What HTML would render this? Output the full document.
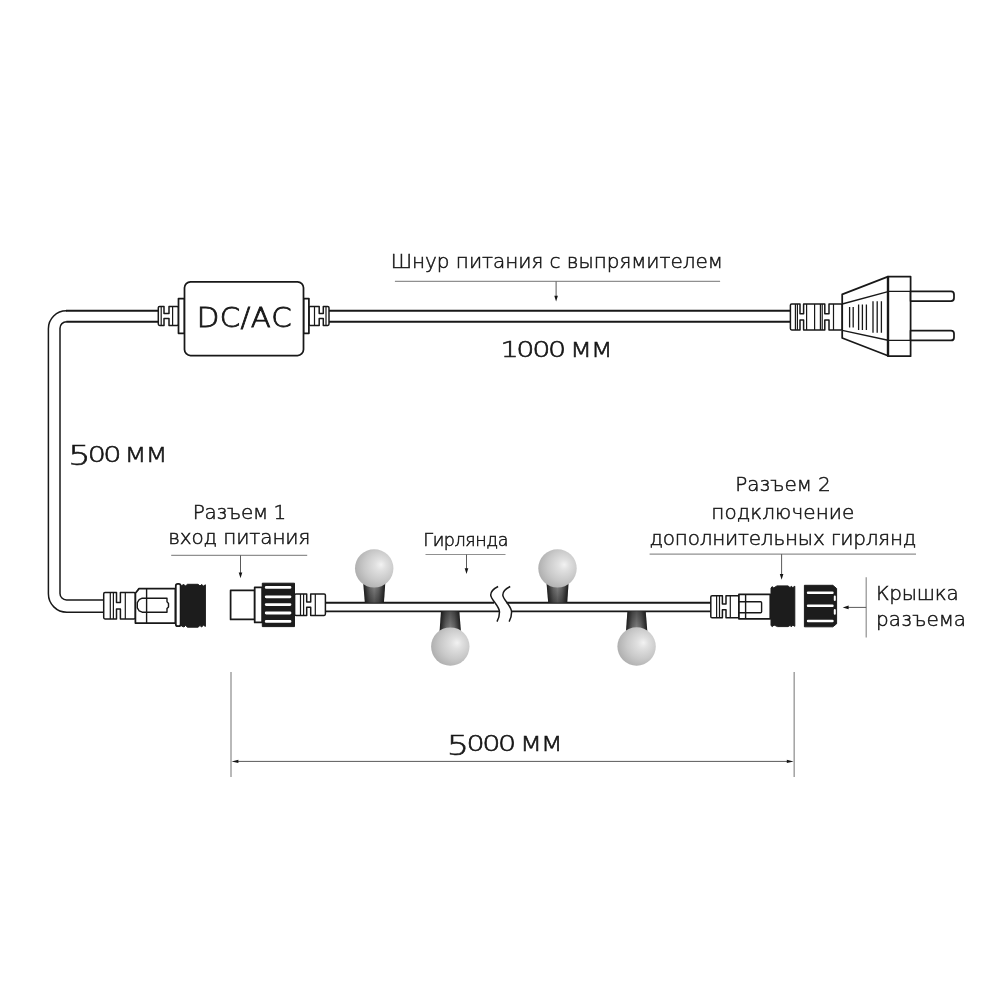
<!DOCTYPE html>
<html lang="ru">
<head>
<meta charset="utf-8">
<title>Схема гирлянды</title>
<style>
html,body{margin:0;padding:0;background:#fff;}
body{width:1000px;height:1000px;overflow:hidden;}
svg{display:block;will-change:transform;}
text{font-family:"DejaVu Sans Light","DejaVu Sans","Liberation Sans",sans-serif;font-weight:200;font-kerning:none;fill:#161616;stroke:#161616;stroke-width:0.5;}
.ln{fill:none;stroke:#181818;stroke-width:1.75;stroke-linejoin:round;stroke-linecap:butt;}
.wf{fill:#fff;stroke:#181818;stroke-width:1.75;stroke-linejoin:round;}
.bk{fill:#1c1c1c;stroke:#1c1c1c;stroke-width:1;stroke-linejoin:round;}
.th{fill:none;stroke:#909090;stroke-width:1.2;}
.sh{fill:none;stroke:#5a5a5a;stroke-width:1;}
.vd{fill:none;stroke:#a2a2a2;stroke-width:1.5;}
.ar{fill:#141414;stroke:none;}
.cb{stroke-width:1.9;}
.cv{stroke-width:1.5;}
</style>
</head>
<body>
<svg width="1000" height="1000" viewBox="0 0 1000 1000">
<defs>
<radialGradient id="bulb" cx="0.6" cy="0.45" r="0.72" fx="0.68" fy="0.4">
<stop offset="0" stop-color="#f2f2f2"/>
<stop offset="0.2" stop-color="#e0e0e0"/>
<stop offset="0.55" stop-color="#c9c9c9"/>
<stop offset="0.85" stop-color="#b0b0b0"/>
<stop offset="1" stop-color="#949494"/>
</radialGradient>
<linearGradient id="base" x1="0" x2="1" y1="0" y2="0">
<stop offset="0" stop-color="#1a1a1a"/>
<stop offset="0.1" stop-color="#363636"/>
<stop offset="0.3" stop-color="#6c6c6c"/>
<stop offset="0.5" stop-color="#8a8a8a"/>
<stop offset="0.7" stop-color="#6c6c6c"/>
<stop offset="0.9" stop-color="#363636"/>
<stop offset="1" stop-color="#1a1a1a"/>
</linearGradient>
<linearGradient id="shd" x1="0" x2="0" y1="0" y2="1">
<stop offset="0" stop-color="#000" stop-opacity="0"/>
<stop offset="1" stop-color="#000" stop-opacity="0.42"/>
</linearGradient>
<linearGradient id="shu" x1="0" x2="0" y1="1" y2="0">
<stop offset="0" stop-color="#000" stop-opacity="0"/>
<stop offset="1" stop-color="#000" stop-opacity="0.42"/>
</linearGradient>
</defs>
<rect width="1000" height="1000" fill="#fff"/>
<g id="cables">
<path class="ln cb" d="M329 310.7H790.5M329 321.7H790.5"/>
<path class="ln cb" d="M158.5 310.7H66M158.5 321.7H66.3"/>
<path class="ln cv" d="M66.6 310.7H66.4A18 18 0 0 0 48.4 328.7V593.8A18.5 18.5 0 0 0 66.9 612.3H104"/>
<path class="ln cv" d="M66.8 321.7H66.5A6.5 6.5 0 0 0 60 328.2V593.4A6.5 6.5 0 0 0 66.5 599.9H104"/>
<path class="ln cb" d="M325 602.7H494M325 611.4H499.4M506.6 602.7H711M511.6 611.4H711"/>
</g>
<g id="box">
<path class="wf" style="stroke-width:1.5" d="M159.60000000000002 306.5H164V313.5H169V306.5H177.2Q178.5 306.5 178.5 307.8V324.09999999999997Q178.5 325.4 177.2 325.4H169V318.6H164V325.4H159.60000000000002Q158.3 325.4 158.3 324.09999999999997V307.8Q158.3 306.5 159.60000000000002 306.5Z"/>
<path class="ln" style="stroke-width:1.2" d="M161.2 306.5V325.4M172.6 306.5V325.4"/>
<rect class="wf" x="178.5" y="298.5" width="6" height="34.8"/>
<path class="wf" style="stroke-width:1.5" d="M310.2 306.5H319.2V313.5H323.3V306.5H327.7Q329 306.5 329 307.8V324.09999999999997Q329 325.4 327.7 325.4H323.3V318.6H319.2V325.4H310.2Q308.9 325.4 308.9 324.09999999999997V307.8Q308.9 306.5 310.2 306.5Z"/>
<path class="ln" style="stroke-width:1.2" d="M314.5 306.5V325.4M326 306.5V325.4"/>
<rect class="wf" x="303.5" y="298.5" width="5.4" height="34.8"/>
<rect class="wf" x="184.5" y="281.8" width="119" height="73.7" rx="6" ry="6"/>
</g>
<g id="plug">
<path class="wf" style="stroke-width:1.5" d="M791.6999999999999 304H800V313.8H803.6V304H824.8V313.8H829V304H841.0Q842.3 304 842.3 305.3V328.59999999999997Q842.3 329.9 841.0 329.9H829V320.1H824.8V329.9H803.6V320.1H800V329.9H791.6999999999999Q790.4 329.9 790.4 328.59999999999997V305.3Q790.4 304 791.6999999999999 304Z"/>
<path class="ln" style="stroke-width:1.2" d="M795.4 304V329.9M797.4 304V329.9M806.6 304V329.9M814.6 304V329.9M820.4 304V329.9M822.2 304V329.9M833.5 304V329.9"/>
<path class="wf" d="M842.2 294.4L888 276.6V355.8L842.2 338Z"/>
<path class="ln" style="stroke-width:1.4" d="M842.2 304L888 291.6M842.2 330.4L888 340.2"/>
<rect class="wf" x="888" y="276.6" width="22.6" height="79.6"/>
<path class="ln" style="stroke-width:2.4" d="M888 276.6V356.2"/>
<path class="ln" style="stroke-width:1.4" d="M888 291.4H910.6M888 340.4H910.6"/>
<path class="wf" d="M910.6 291.4H951Q954 291.4 954 294.4V298Q954 301 951 301H910.6Z"/>
<path class="wf" d="M910.6 330.6H951Q954 330.6 954 333.6V337.4Q954 340.4 951 340.4H910.6Z"/>
<path class="ln" style="stroke-width:1.3" d="M849.6 307V327.4M853.2 307V327.4M858.6 304.4V330M862.4 304.4V330M866.4 304.4V330M873 301.2V332.8M877.2 301.2V332.8M881.4 301.2V332.8"/>
</g>
<g id="bulbs">
<path fill="url(#base)" d="M363.2 583H385.3L383.9 602.6H364.9Z"/><path fill="url(#shd)" d="M363.2 583H385.3L383.9 602.6H364.9Z"/>
<circle cx="374.2" cy="568.4" r="19.2" fill="url(#bulb)"/>
<path fill="url(#base)" d="M441 611.6H459.3L461 632H439.5Z"/><path fill="url(#shu)" d="M441 611.6H459.3L461 632H439.5Z"/>
<circle cx="450.3" cy="646.6" r="19.2" fill="url(#bulb)"/>
<path fill="url(#base)" d="M546.5 583H568.6L567.2 602.6H548.2Z"/><path fill="url(#shd)" d="M546.5 583H568.6L567.2 602.6H548.2Z"/>
<circle cx="557.5" cy="568.4" r="19.2" fill="url(#bulb)"/>
<path fill="url(#base)" d="M627.4 611.6H645.7L647.4 632H625.9Z"/><path fill="url(#shu)" d="M627.4 611.6H645.7L647.4 632H625.9Z"/>
<circle cx="636.6" cy="646.5" r="19.2" fill="url(#bulb)"/>
</g>
<g id="break">
<path class="ln cv" stroke-linecap="round" d="M498.1 586.5C493.5 588.8 490.7 591 490.7 595C490.7 599.5 499.5 606 499.5 612C499.5 615.5 498.5 619 497 621.7"/>
<path class="ln cv" stroke-linecap="round" d="M510.2 586.5C505.6 588.8 502.8 591 502.8 595C502.8 599.5 511.6 606 511.6 612C511.6 615.5 510.6 619 509.1 621.7"/>
</g>
<g id="conn1">
<path class="wf" style="stroke-width:1.5" d="M105.0 592.6H116.5V602.4H120.4V592.6H134.1Q135.4 592.6 135.4 593.9V617.6Q135.4 618.9 134.1 618.9H120.4V609H116.5V618.9H105.0Q103.7 618.9 103.7 617.6V593.9Q103.7 592.6 105.0 592.6Z"/>
<path class="ln" style="stroke-width:1.2" d="M110.3 592.6V618.9M113.4 592.6V618.9M125.3 592.6V618.9"/>
<path class="wf" d="M135.4 593.2L139 588.6H175.4V623H135.4Z"/>
<path class="ln" style="stroke-width:1.4" d="M146.6 588.6V623"/>
<path class="ln" style="stroke-width:1.4" d="M167 598.2H142.2L139.2 599.6L137.3 602.6V607.8L139.2 610.8L142.2 612.2H167V608.6L168.5 607V603.4L167 601.8Z"/>
<rect class="wf" x="175.8" y="583.8" width="4.8" height="42.4" rx="2"/>
<path class="bk" d="M181.5 585.5L184 584.5L185.5 586L187.5 584.3H198L200 586L201.5 584.5L203.5 586L205.4 584.8V626.4L203.5 625.2L201.5 627L200 625.4L198 627.2H187.5L185.5 625.4L184 627L181.5 626Z"/>
</g>
<g id="conn2">
<rect class="wf" x="230.6" y="590.4" width="24.1" height="29"/>
<rect class="wf" x="254.7" y="587.3" width="7.5" height="35.1"/>
<rect class="bk" x="262.3" y="583.2" width="32.2" height="43.4"/>
<path fill="none" stroke="#fff" style="stroke-width:2.8" stroke-linecap="round" d="M266.2 587.4H290M266.2 596.8H290M266.2 604.6H290M266.2 613H290M266.2 621.4H290"/>
<path class="wf" style="stroke-width:1.5" d="M295.90000000000003 594H306.7V602H310.7V594H324.09999999999997Q325.4 594 325.4 595.3V614.1Q325.4 615.4 324.09999999999997 615.4H310.7V607.2H306.7V615.4H295.90000000000003Q294.6 615.4 294.6 614.1V595.3Q294.6 594 295.90000000000003 594Z"/>
<path class="ln" style="stroke-width:1.2" d="M300.5 594V615.4M303.6 594V615.4M315.3 594V615.4"/>
</g>
<g id="conn3">
<path class="wf" style="stroke-width:1.5" d="M712.0999999999999 595.7H722.4V604.1H726V595.7H737.6Q738.9 595.7 738.9 597.0V616.5Q738.9 617.8 737.6 617.8H726V609.8H722.4V617.8H712.0999999999999Q710.8 617.8 710.8 616.5V597.0Q710.8 595.7 712.0999999999999 595.7Z"/>
<path class="ln" style="stroke-width:1.2" d="M716.6 595.7V617.8M719.5 595.7V617.8M730.3 595.7V617.8"/>
<rect class="wf" x="738.9" y="594.4" width="31.4" height="24.4"/>
<path class="ln" style="stroke-width:1.4" d="M745.6 594.4V618.8M738.9 601.8H760.6Q761.6 601.8 761.6 602.8V611.7Q761.6 612.7 760.6 612.7H738.9"/>
<path class="bk" d="M771 588L772.3 586.6L773.6 588L777 585.9H788L790 587.6L791.3 586.2L792.8 587.6L794.8 586.2V626.3L792.8 625.2L791.3 626.8L790 625.4L788 626.6H777.5L774 625L772.5 626.6L771 625.6Z"/>
<path class="bk" d="M804.4 585.3H832.8L836.6 588.5V623.8L832.8 626.8H804.4Z"/>
<path fill="none" stroke="#fff" style="stroke-width:2.4" stroke-linecap="round" d="M808 592.8H832.5M808 605.7H832.5M808 621H832.5"/>
<path fill="none" stroke="#fff" style="stroke-width:2" stroke-linecap="round" d="M834.8 596.5V600M834.8 610V613.8"/>
</g>
<g id="labels">
<text transform="translate(196.74 326.70) scale(1.1000 1)" font-size="26.6" letter-spacing="0.358" style="stroke-width:0.8">DC/AC</text>
<text transform="translate(390.66 268.40)" font-size="20" letter-spacing="-0.029">Шнур питания с выпрямителем</text>
<text transform="translate(500.56 356.60) scale(1.3000 1)" font-size="22.0" letter-spacing="-1.843" style="stroke-width:0.6">1000</text>
<text transform="translate(570.29 356.60) scale(1.1000 1)" font-size="26.0" letter-spacing="-0.834" style="stroke-width:0.6">мм</text>
<text transform="translate(68.14 462.40) scale(1.3000 1)" letter-spacing="-2.080" style="stroke-width:0.6"><tspan font-size="27" dy="3.00">5</tspan><tspan font-size="22.0" dy="-3.00">00</tspan></text>
<text transform="translate(124.79 462.30) scale(1.1000 1)" font-size="26.0" letter-spacing="-0.470" style="stroke-width:0.6">мм</text>
<text transform="translate(192.76 518.70)" font-size="20" letter-spacing="-0.365">Разъем 1</text>
<text transform="translate(168.14 544.30)" font-size="20" letter-spacing="-0.104">вход питания</text>
<text transform="translate(423.35 546.30)" font-size="17.6" letter-spacing="-0.472">Гирлянда</text>
<text transform="translate(735.16 491.40)" font-size="20" letter-spacing="-0.070">Разъем 2</text>
<text transform="translate(711.33 518.60)" font-size="20" letter-spacing="0.054">подключение</text>
<text transform="translate(649.44 545.00)" font-size="20" letter-spacing="-0.220">дополнительных гирлянд</text>
<text transform="translate(875.94 599.70)" font-size="20" letter-spacing="-0.222">Крышка</text>
<text transform="translate(876.11 625.60)" font-size="20" letter-spacing="0.002">разъема</text>
<text transform="translate(446.64 751.30) scale(1.3000 1)" letter-spacing="-1.899" style="stroke-width:0.6"><tspan font-size="27" dy="3.20">5</tspan><tspan font-size="22.0" dy="-3.20">000</tspan></text>
<text transform="translate(520.29 751.30) scale(1.1000 1)" font-size="26.0" letter-spacing="-0.834" style="stroke-width:0.6">мм</text>
</g>
<g id="leaders">
<path class="th" d="M394.9 281.4H720.1"/><path class="sh" d="M556.1 281.4V296.7"/><path class="ar" d="M554.3000000000001 295.7H557.9L556.1 301.5Z"/>
<path class="th" d="M171.2 555.3H307.2"/><path class="sh" d="M240.5 555.3V573.4000000000001"/><path class="ar" d="M238.7 572.4000000000001H242.3L240.5 578.2Z"/>
<path class="th" d="M425.5 554.5H505.5"/><path class="sh" d="M466.5 554.5V569.2"/><path class="ar" d="M464.7 568.2H468.3L466.5 574Z"/>
<path class="th" d="M649.6 554.1H916"/><path class="sh" d="M781.6 554.1V574.9000000000001"/><path class="ar" d="M779.8000000000001 573.9000000000001H783.4L781.6 579.7Z"/>
<path class="th" d="M866.2 577.3V637.6"/><path class="sh" d="M866.2 607.4H848"/><path class="ar" d="M848.6 605.6V609.2L842.7 607.4Z"/>
<path class="vd" d="M231 672V777M794.2 672V777"/><path class="sh" d="M236 761.4H789"/>
<path class="ar" d="M238.4 759.7V763.1L231.6 761.4Z"/><path class="ar" d="M786.8 759.7V763.1L793.6 761.4Z"/>
</g>
</svg>
</body>
</html>
